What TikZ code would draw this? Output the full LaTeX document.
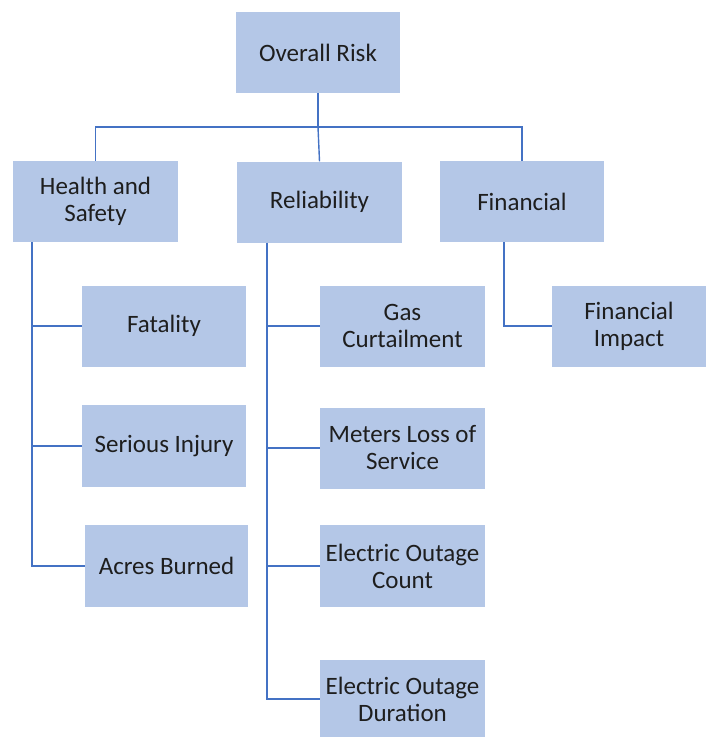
\documentclass[tikz,border=0pt]{standalone}
\usepackage{fontspec}
\setmainfont{Carlito}
\definecolor{boxfill}{HTML}{B4C7E7}
\definecolor{linkblue}{HTML}{4472C4}
\definecolor{txt}{HTML}{1E1E1E}
\begin{document}
\begin{tikzpicture}[x=1pt,y=-1pt,
  box/.style={fill=boxfill, draw=none, inner sep=0pt, minimum width=165pt, minimum height=81pt,
    align=center, text=txt, font=\fontsize{25}{27}\selectfont},
  link/.style={draw=linkblue, line width=1.4pt}]
\useasboundingbox (0,0) rectangle (706,737);

% top level
\node[box, minimum width=164pt] (over) at (318,52.5) {Overall Risk};

% categories
\node[box] (hs)  at (95.5,201.5) {Health and\\Safety};
\node[box] (rel) at (319.5,202)  {Reliability};
\node[box, minimum width=164pt] (fin) at (522,201.5) {Financial};

% health and safety measures
\node[box, minimum width=164pt] (fat) at (164,326) {Fatality};
\node[box, minimum width=164pt, minimum height=82pt] (inj) at (164,446) {Serious Injury};
\node[box, minimum width=163pt, minimum height=82pt] (acr) at (166.5,566) {Acres Burned};

% reliability measures
\node[box] (gas) at (402.5,326) {Gas\\Curtailment};
\node[box] (met) at (402.5,448) {Meters Loss of\\Service};
\node[box, minimum height=82pt] (eoc) at (402.5,566) {Electric Outage\\Count};
\node[box, minimum height=78pt] (eod) at (402.5,699) {Electric Outage\\Duration};

% financial measure
\node[box, minimum width=154pt] (fim) at (629,326) {Financial\\Impact};

% connectors: top level to categories
\coordinate (bus) at (318,127);
\draw[link] (over.south) -- (bus);
\draw[link] (hs.north) |- (bus) -| (fin.north);
\draw[link] (bus) -- (rel.north);

% health and safety spine
\draw[link] ([xshift=19pt]hs.south west) coordinate (hsSpine) |- (acr.west);
\draw[link] (fat.west) -- (fat.west -| hsSpine);
\draw[link] (inj.west) -- (inj.west -| hsSpine);

% reliability spine
\draw[link] ([xshift=30pt]rel.south west) coordinate (relSpine) |- (eod.west);
\draw[link] (gas.west) -- (gas.west -| relSpine);
\draw[link] (met.west) -- (met.west -| relSpine);
\draw[link] (eoc.west) -- (eoc.west -| relSpine);

% financial branch
\draw[link] ([xshift=-18pt]fin.south) |- (fim.west);
\end{tikzpicture}
\end{document}
